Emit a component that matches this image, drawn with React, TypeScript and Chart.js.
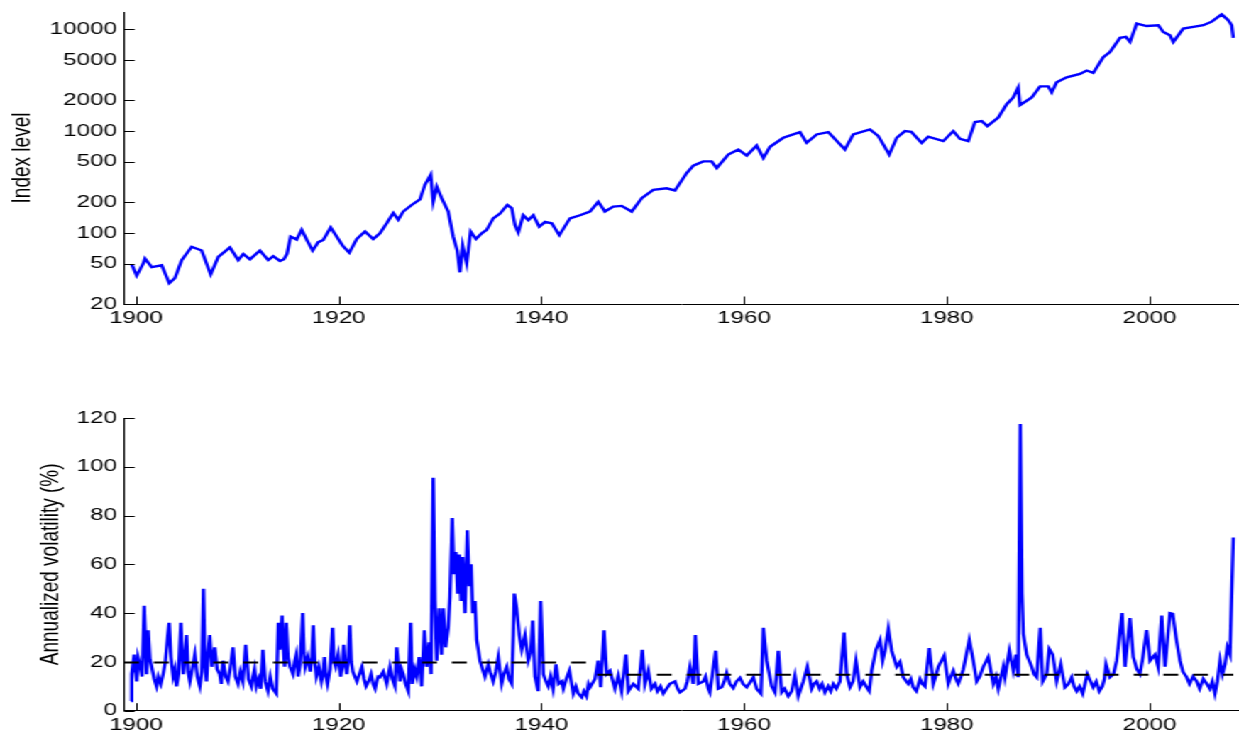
import React, { useEffect, useRef } from 'react';
import { Chart, registerables } from 'chart.js';

Chart.register(...registerables);

// ---------- data ----------
const xTickYears = [1900, 1920, 1940, 1960, 1980, 2000];
const indexTicks = [20, 50, 100, 200, 500, 1000, 2000, 5000, 10000];
const volTicks = [0, 20, 40, 60, 80, 100, 120];

const captionText =
  'Figure 1: Dow Jones Industrial Average, 1896\u20132008. Index level (top) and volatility (bottom)';
const indexTitle = 'Index level';
const volTitle = 'Annualized volatility (%)';

// [year, index level]
const indexSeries: [number, number][] = [
  [1899.58, 49], [1900.07, 38], [1900.72, 50], [1900.89, 56], [1901.55, 46], [1902.54, 48],
  [1903.29, 32], [1903.85, 36], [1904.51, 54], [1905.5, 73], [1906.48, 67], [1907.37, 39],
  [1908.12, 58], [1909.27, 72], [1910.09, 54], [1910.59, 62], [1911.25, 55], [1912.23, 67],
  [1913.05, 54], [1913.55, 59], [1914.21, 53], [1914.6, 55], [1914.9, 62], [1915.26, 92],
  [1915.86, 86], [1916.35, 107], [1916.84, 86], [1917.43, 67], [1917.99, 81], [1918.48, 85],
  [1919.21, 113], [1919.8, 92], [1920.39, 75], [1921.05, 64], [1921.78, 87], [1922.6, 103],
  [1923.41, 87], [1924.07, 99], [1924.74, 124], [1925.39, 157], [1925.88, 135], [1926.37, 162],
  [1927.2, 188], [1928.02, 213], [1928.51, 297], [1929.08, 373], [1929.33, 203], [1929.67, 285],
  [1930.16, 219], [1930.81, 162], [1931.31, 91], [1931.7, 67], [1931.97, 41], [1932.23, 75],
  [1932.63, 50], [1933.02, 103], [1933.55, 87], [1934.11, 99], [1934.6, 107], [1935.25, 139],
  [1935.92, 155], [1936.64, 188], [1937.07, 175], [1937.4, 119], [1937.72, 101], [1938.21, 149],
  [1938.71, 133], [1939.2, 149], [1939.79, 115], [1940.36, 128], [1941.02, 124], [1941.77, 95],
  [1942.82, 139], [1943.81, 149], [1944.79, 162], [1945.61, 202], [1946.27, 162], [1947.09, 181],
  [1947.92, 184], [1948.91, 162], [1949.9, 219], [1951.04, 265], [1952.36, 274], [1953.18, 261],
  [1954.34, 387], [1954.99, 457], [1955.97, 504], [1956.8, 504], [1957.3, 434], [1958.44, 588],
  [1959.43, 659], [1960.26, 575], [1961.24, 721], [1961.9, 545], [1962.56, 701], [1963.87, 860],
  [1965.51, 977], [1966.17, 767], [1967.16, 927], [1968.31, 977], [1969.95, 659], [1970.77, 927],
  [1972.42, 1040], [1973.24, 894], [1974.32, 588], [1975.06, 860], [1975.87, 1000], [1976.5, 985],
  [1977.52, 767], [1978.17, 880], [1979.65, 798], [1980.64, 1000], [1981.3, 840], [1982.12, 798],
  [1982.78, 1227], [1983.44, 1256], [1984.0, 1121], [1985.08, 1357], [1985.91, 1838], [1986.56, 2139],
  [1987.05, 2688], [1987.22, 1795], [1988.38, 2139], [1989.2, 2751], [1990.01, 2751], [1990.35, 2398],
  [1990.84, 3014], [1991.83, 3379], [1993.14, 3646], [1993.8, 3936], [1994.45, 3728], [1995.44, 5328],
  [1996.1, 5974], [1997.09, 8238], [1997.68, 8430], [1998.08, 7520], [1998.74, 11380], [1999.72, 10770],
  [2000.87, 10970], [2001.36, 9410], [2002.02, 8740], [2002.35, 7520], [2003.33, 10160], [2004.32, 10570],
  [2005.31, 10970], [2006.14, 11890], [2007.12, 14020], [2007.77, 12290], [2008.11, 10970], [2008.27, 8230],
];

// [year, annualized volatility %]
const volSeries: [number, number][] = [
  [1899.51, 4], [1899.58, 15], [1899.7, 19], [1899.83, 23], [1899.95, 16], [1900.07, 12],
  [1900.2, 22], [1900.39, 19], [1900.6, 14], [1900.82, 43], [1901.05, 15], [1901.21, 33],
  [1901.38, 21], [1901.55, 18], [1901.8, 13], [1902.03, 10], [1902.2, 14], [1902.45, 11],
  [1902.68, 15], [1902.9, 20], [1903.12, 30], [1903.28, 36], [1903.45, 22], [1903.67, 14],
  [1903.85, 17], [1904.0, 10], [1904.2, 15], [1904.43, 36], [1904.66, 15], [1904.85, 22],
  [1904.99, 31], [1905.15, 16], [1905.32, 12], [1905.55, 17], [1905.81, 23], [1906.05, 14],
  [1906.3, 10], [1906.5, 16], [1906.66, 50], [1906.8, 20], [1906.96, 12], [1907.12, 24],
  [1907.28, 31], [1907.5, 18], [1907.77, 26], [1908.0, 17], [1908.26, 15], [1908.42, 11],
  [1908.59, 20.5], [1908.85, 14], [1909.08, 12], [1909.3, 17], [1909.58, 26], [1909.8, 14],
  [1910.07, 11], [1910.3, 16], [1910.55, 12], [1910.83, 27], [1911.1, 13], [1911.39, 10],
  [1911.55, 14], [1911.7, 17], [1911.88, 10], [1912.1, 13], [1912.3, 9], [1912.53, 25],
  [1912.75, 12], [1913.02, 8], [1913.25, 14], [1913.5, 9], [1913.85, 7], [1914.05, 36],
  [1914.2, 25], [1914.41, 39], [1914.55, 26], [1914.67, 18], [1914.83, 36], [1915.0, 22],
  [1915.2, 18], [1915.49, 15], [1915.65, 20], [1915.82, 23], [1916.0, 14], [1916.2, 19],
  [1916.45, 40], [1916.58, 24], [1916.7, 18], [1916.95, 22], [1917.2, 16], [1917.35, 22],
  [1917.5, 35], [1917.65, 20], [1917.8, 14], [1918.05, 18], [1918.3, 12], [1918.45, 15],
  [1918.6, 22], [1918.75, 14], [1918.9, 11], [1919.15, 17], [1919.4, 34], [1919.55, 20],
  [1919.7, 18], [1919.95, 23], [1920.2, 14], [1920.35, 18], [1920.5, 27], [1920.65, 19],
  [1920.8, 15], [1920.95, 21], [1921.1, 35], [1921.25, 20], [1921.4, 16], [1921.6, 14],
  [1921.8, 12], [1922.05, 15], [1922.3, 18], [1922.5, 13], [1922.7, 10], [1922.95, 12],
  [1923.2, 15], [1923.4, 11], [1923.6, 9], [1923.75, 12], [1923.9, 14], [1924.07, 13.7],
  [1924.4, 16], [1924.74, 11], [1925.06, 18], [1925.3, 13], [1925.56, 10], [1925.72, 26],
  [1926.05, 12], [1926.2, 17], [1926.37, 15], [1926.6, 11], [1926.87, 8], [1927.1, 36],
  [1927.26, 11], [1927.5, 17], [1927.7, 14], [1927.95, 22], [1928.19, 10], [1928.45, 33],
  [1928.68, 18], [1928.94, 28], [1929.11, 15], [1929.33, 95.5], [1929.5, 45], [1929.67, 20.5],
  [1929.93, 42], [1930.16, 23], [1930.32, 42], [1930.56, 26], [1930.81, 34], [1930.98, 46.5],
  [1931.21, 79], [1931.38, 56], [1931.57, 65], [1931.74, 48], [1931.9, 64], [1932.07, 45],
  [1932.23, 63], [1932.46, 40], [1932.69, 74], [1932.89, 51], [1933.06, 60], [1933.22, 40],
  [1933.45, 45], [1933.62, 29], [1933.94, 20.5], [1934.2, 17], [1934.43, 14], [1934.76, 19],
  [1935.0, 15], [1935.25, 12], [1935.5, 16], [1935.75, 22], [1936.08, 11], [1936.3, 15],
  [1936.58, 18], [1936.8, 13], [1937.07, 11], [1937.23, 31], [1937.33, 48], [1937.56, 42],
  [1937.82, 31], [1938.06, 25], [1938.38, 31], [1938.71, 20.5], [1938.95, 24], [1939.14, 37],
  [1939.37, 14], [1939.69, 8], [1939.93, 45], [1940.19, 15], [1940.45, 12], [1940.68, 10],
  [1940.9, 14], [1941.15, 9], [1941.44, 19], [1941.7, 11], [1942.0, 12], [1942.17, 9],
  [1942.45, 13], [1942.76, 16.4], [1943.15, 7], [1943.4, 10], [1943.64, 7], [1943.98, 5.5],
  [1944.2, 8], [1944.45, 6], [1944.65, 11], [1944.8, 9.6], [1945.29, 13], [1945.61, 20.5],
  [1945.85, 9.6], [1946.18, 33], [1946.44, 15], [1946.77, 16.4], [1947.26, 9], [1947.59, 14.4],
  [1947.92, 8], [1948.35, 23], [1948.58, 8], [1949.07, 11], [1949.56, 9], [1949.96, 25],
  [1950.22, 11], [1950.55, 16.4], [1950.85, 9], [1951.21, 11], [1951.45, 8], [1951.75, 10],
  [1952.03, 7], [1952.35, 9], [1952.69, 11], [1953.18, 12], [1953.45, 9], [1953.68, 7.5],
  [1954.17, 9], [1954.4, 12], [1954.66, 18], [1954.99, 11], [1955.19, 31], [1955.48, 11],
  [1955.97, 12], [1956.2, 14], [1956.47, 9], [1956.63, 7.5], [1957.2, 24.6], [1957.45, 9],
  [1957.79, 9.6], [1958.05, 12], [1958.28, 15.5], [1958.6, 11], [1958.93, 9.3], [1959.25, 12],
  [1959.6, 13.5], [1959.9, 11], [1960.26, 9.6], [1960.58, 11.6], [1960.91, 13.7], [1961.24, 9],
  [1961.67, 7], [1961.9, 34], [1962.23, 20.5], [1962.72, 10], [1963.05, 7.5], [1963.38, 24.6],
  [1963.71, 7.5], [1964.0, 9], [1964.36, 6], [1964.7, 8], [1965.02, 14.4], [1965.35, 6],
  [1965.84, 12], [1966.24, 18], [1966.67, 9], [1966.9, 11], [1967.16, 12], [1967.45, 9],
  [1967.7, 11], [1967.98, 7.5], [1968.3, 10], [1968.55, 8], [1968.8, 11], [1969.1, 9],
  [1969.46, 12], [1969.86, 32], [1970.12, 15], [1970.45, 9.6], [1970.75, 12], [1971.04, 20.5],
  [1971.43, 9.6], [1971.75, 12], [1972.09, 9.6], [1972.35, 8], [1972.59, 16.4], [1973.01, 25],
  [1973.41, 29], [1973.67, 20.5], [1973.9, 24.6], [1974.23, 33.5], [1974.56, 24.6], [1975.06, 18],
  [1975.38, 20], [1975.71, 13.7], [1976.2, 11], [1976.45, 13], [1976.69, 9.6], [1977.0, 8],
  [1977.36, 13], [1977.6, 11], [1977.85, 10], [1978.27, 25.7], [1978.67, 11], [1978.9, 14],
  [1979.16, 18], [1979.75, 22.6], [1980.15, 11], [1980.4, 14], [1980.64, 16.4], [1980.9, 13],
  [1981.13, 11], [1981.4, 14], [1981.63, 17], [1982.22, 29], [1982.61, 20.5], [1982.95, 12],
  [1983.25, 14], [1983.6, 18], [1984.09, 22], [1984.59, 11], [1984.85, 14], [1985.08, 9],
  [1985.58, 18], [1985.74, 13.7], [1986.17, 24.6], [1986.56, 16.4], [1986.83, 23], [1987.05, 13.7],
  [1987.25, 117.5], [1987.42, 48], [1987.55, 31.5], [1987.88, 23], [1988.38, 18], [1988.6, 15],
  [1988.87, 13.7], [1989.22, 34], [1989.46, 12], [1989.85, 15], [1990.11, 25.3], [1990.45, 23],
  [1990.84, 12], [1991.24, 19], [1991.66, 9.6], [1992.0, 11], [1992.32, 13.7], [1992.55, 10],
  [1992.82, 8], [1993.1, 10], [1993.41, 7], [1993.86, 15], [1994.45, 9.6], [1994.75, 12],
  [1995.05, 8], [1995.35, 10], [1995.55, 13], [1995.71, 19], [1996.1, 13.7], [1996.45, 15],
  [1996.76, 20.5], [1997.29, 40], [1997.58, 18], [1998.08, 38], [1998.4, 22], [1998.75, 17],
  [1999.06, 15], [1999.35, 22], [1999.72, 33], [2000.05, 20.5], [2000.54, 23], [2000.85, 18],
  [2001.2, 39], [2001.53, 18], [2002.02, 40], [2002.29, 39.7], [2002.62, 30], [2003.01, 20.5],
  [2003.3, 16], [2003.67, 13.7], [2003.95, 11], [2004.3, 14], [2004.66, 12], [2004.95, 9],
  [2005.3, 13], [2005.65, 11], [2005.95, 9], [2006.2, 12], [2006.46, 7], [2006.7, 12],
  [2006.96, 20.5], [2007.2, 15], [2007.45, 19], [2007.68, 26], [2007.94, 23], [2008.27, 71],
];

// period means (dashed)
const meanEarly: [number, number][] = [[1898.82, 19.8], [1945.5, 19.8]];
const meanLate: [number, number][] = [[1945.5, 14.7], [2008.27, 14.7]];

const X_MIN = 1898.82;
const X_MAX = 2008.83;
const INDEX_MIN = 20;
const INDEX_MAX = 14800;
const VOL_MIN = 0;
const VOL_MAX = 120;

// ---------- layout (logical px, canvas stretched horizontally) ----------
const W = 873;
const SX = 1239 / W;
const TOP_H = 345;
const BOT_H = 391;
const PLOT_LEFT = 124 / SX;
const TICK_FONT = { family: "'Liberation Sans', Arial, Helvetica, sans-serif", size: 17 };
const TITLE_FONT = { family: "'Liberation Sans', Arial, Helvetica, sans-serif", size: 19 };

const toXY = (arr: [number, number][]) => arr.map(([x, y]) => ({ x, y }));

const inwardTicks = {
  id: 'inwardTicks',
  afterDatasetsDraw(chart: any) {
    const { ctx, chartArea } = chart;
    const xs = chart.scales.x;
    const ys = chart.scales.y;
    ctx.save();
    ctx.strokeStyle = '#000';
    ctx.lineWidth = 1;
    ctx.beginPath();
    xs.ticks.forEach((t: any) => {
      const px = Math.round(xs.getPixelForValue(t.value)) + 0.5;
      ctx.moveTo(px, chartArea.bottom);
      ctx.lineTo(px, chartArea.bottom - 7.5);
    });
    ys.ticks.forEach((t: any) => {
      const py = Math.round(ys.getPixelForValue(t.value)) + 0.5;
      ctx.moveTo(chartArea.left, py);
      ctx.lineTo(chartArea.left + 7.5, py);
    });
    ctx.stroke();
    ctx.restore();
  },
};

function xScale(bottomHeight: number) {
  return {
    type: 'linear',
    min: X_MIN,
    max: X_MAX,
    afterBuildTicks: (s: any) => {
      s.ticks = xTickYears.map((v) => ({ value: v }));
    },
    ticks: {
      callback: (v: any) => String(v),
      font: TICK_FONT,
      color: '#000',
      padding: 4,
      maxRotation: 0,
      autoSkip: false,
    },
    grid: { display: false, drawTicks: false, tickLength: 0 },
    border: { display: true, color: '#000', width: 1 },
    afterFit: (s: any) => {
      s.height = bottomHeight;
      s.paddingLeft = 0;
      s.paddingRight = 0;
    },
  };
}

function yScale(opts: any) {
  return {
    type: opts.type,
    min: opts.min,
    max: opts.max,
    afterBuildTicks: (s: any) => {
      s.ticks = opts.ticks.map((v: number) => ({ value: v }));
    },
    ticks: {
      callback: (v: any) => String(v),
      font: TICK_FONT,
      color: '#000',
      padding: 5,
      autoSkip: false,
    },
    title: {
      display: true,
      text: opts.title,
      font: TITLE_FONT,
      color: '#000',
      padding: { top: opts.titlePad, bottom: 0 },
    },
    grid: { display: false, drawTicks: false, tickLength: 0 },
    border: { display: true, color: '#000', width: 1 },
    afterFit: (s: any) => {
      s.width = PLOT_LEFT;
      s.paddingTop = 0;
      s.paddingBottom = 0;
    },
  };
}

function TopChart() {
  const ref = useRef<HTMLCanvasElement | null>(null);
  useEffect(() => {
    if (!ref.current) return;
    const chart = new Chart(ref.current, {
      type: 'line',
      data: {
        datasets: [
          {
            data: toXY(indexSeries),
            borderColor: '#0000ff',
            borderWidth: 2.4,
            pointRadius: 0,
            tension: 0,
            fill: false,
          },
        ],
      },
      options: {
        animation: false,
        responsive: false,
        maintainAspectRatio: false,
        layout: { padding: { top: 12, left: 0, right: 0, bottom: 0 } },
        plugins: { legend: { display: false }, tooltip: { enabled: false } },
        scales: {
          x: xScale(TOP_H - 304),
          y: yScale({
            type: 'logarithmic',
            min: INDEX_MIN,
            max: INDEX_MAX,
            ticks: indexTicks,
            title: indexTitle,
            titlePad: 4.5,
          }),
        },
      } as any,
      plugins: [inwardTicks],
    } as any);
    return () => chart.destroy();
  }, []);
  return (
    <canvas
      ref={ref}
      width={W}
      height={TOP_H}
      style={{ position: 'absolute', left: 0, top: 0, width: W + 'px', height: TOP_H + 'px', display: 'block' }}
    />
  );
}

function BottomChart() {
  const ref = useRef<HTMLCanvasElement | null>(null);
  useEffect(() => {
    if (!ref.current) return;
    const chart = new Chart(ref.current, {
      type: 'line',
      data: {
        datasets: [
          {
            data: toXY(meanEarly),
            borderColor: '#000',
            borderWidth: 2,
            borderDash: [10.5, 10.5],
            pointRadius: 0,
            fill: false,
          },
          {
            data: toXY(meanLate),
            borderColor: '#000',
            borderWidth: 2,
            borderDash: [10.5, 10.5],
            pointRadius: 0,
            fill: false,
          },
          {
            data: toXY(volSeries),
            borderColor: '#0000ff',
            borderWidth: 2.4,
            pointRadius: 0,
            tension: 0,
            fill: false,
          },
        ],
      },
      options: {
        animation: false,
        responsive: false,
        maintainAspectRatio: false,
        layout: { padding: { top: 418 - TOP_H, left: 0, right: 0, bottom: 0 } },
        plugins: { legend: { display: false }, tooltip: { enabled: false } },
        scales: {
          x: xScale(TOP_H + BOT_H - 710.7),
          y: yScale({
            type: 'linear',
            min: VOL_MIN,
            max: VOL_MAX,
            ticks: volTicks,
            title: volTitle,
            titlePad: 24.4,
          }),
        },
      } as any,
      plugins: [inwardTicks],
    } as any);
    return () => chart.destroy();
  }, []);
  return (
    <canvas
      ref={ref}
      width={W}
      height={BOT_H}
      style={{ position: 'absolute', left: 0, top: TOP_H, width: W + 'px', height: BOT_H + 'px', display: 'block' }}
    />
  );
}

export default function App() {
  return (
    <div
      style={{
        position: 'absolute',
        left: 0,
        top: 0,
        width: 1239,
        height: 736,
        overflow: 'hidden',
        background: '#fff',
      }}
    >
      <div
        style={{
          position: 'absolute',
          left: 0,
          top: 0,
          width: W,
          height: 736,
          transform: `scaleX(${SX})`,
          transformOrigin: '0 0',
        }}
      >
        <div
          style={{
            position: 'absolute',
            left: 27,
            top: -22.5,
            fontFamily: "'Liberation Serif', 'Times New Roman', serif",
            fontSize: '20.4px',
            lineHeight: '20.4px',
            whiteSpace: 'nowrap',
            color: '#000',
          }}
        >
          {captionText}
        </div>
        <TopChart />
        <BottomChart />
      </div>
    </div>
  );
}
